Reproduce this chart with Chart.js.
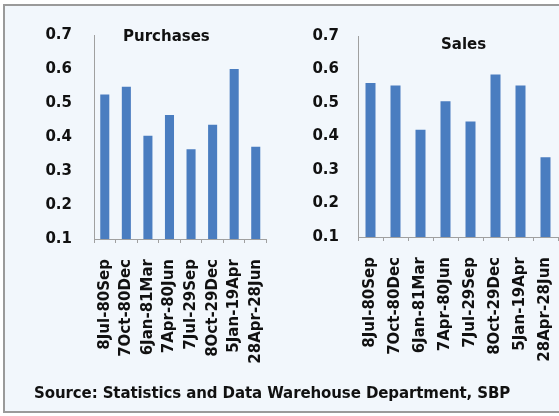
<!DOCTYPE html>
<html lang="en">
<head>
<meta charset="UTF-8">
<title>Purchases and Sales</title>
<script src="https://cdn.jsdelivr.net/npm/chart.js"></script>
<style>
    html, body { margin: 0; padding: 0; background: #fff; overflow: hidden; width: 559px; height: 416px; }
    #painel {
        position: absolute; left: 3px; top: 4px; width: 620px; height: 405px;
        border: 2px solid #9a9a9a; background: #f2f7fc;
    }
    canvas { position: absolute; top: 0; }
    .titulo, #fonte {
        position: absolute; font-family: "DejaVu Sans", sans-serif; font-weight: bold;
        color: #111; white-space: nowrap; line-height: 1;
    }
    .titulo { font-size: 15px; }
    #fonte { font-size: 15px; left: 34px; top: 386px; letter-spacing: -0.1px; }
</style>
</head>
<body>
<div id="painel"></div>
<canvas id="graficoCompras" width="290" height="416" style="left:0px"></canvas>
<canvas id="graficoVendas" width="300" height="416" style="left:290px"></canvas>
<div class="titulo" style="left:123px; top:29px">Purchases</div>
<div class="titulo" style="left:441px; top:37px">Sales</div>
<div id="fonte">Source: Statistics and Data Warehouse Department, SBP</div>
<script>
    // periodos
    var periodos = ['8Jul-80Sep', '7Oct-80Dec', '6Jan-81Mar', '7Apr-80Jun',
        '7Jul-29Sep', '8Oct-29Dec', '5Jan-19Apr', '28Apr-28Jun']

    var compras = [0.525, 0.548, 0.404, 0.465, 0.364, 0.436, 0.600, 0.371]
    var vendas = [0.560, 0.552, 0.420, 0.505, 0.445, 0.585, 0.552, 0.338]

    var eixoY = { min: 0.1, max: 0.7, passo: 0.1 }

    var corBarra = '#4a7dc0'
    var fonteEixo = { family: 'DejaVu Sans', weight: 'bold', size: 15 }
    var fonteCategoria = { family: 'DejaVu Sans', weight: 'bold', size: 15 }

    function montarGrafico(id, valores, larguraY, pad, paddingY, barra) {
        return new Chart(document.getElementById(id), {
            type: 'bar',
            data: {
                labels: periodos,
                datasets: [{
                    data: valores,
                    backgroundColor: corBarra,
                    borderWidth: 0,
                    categoryPercentage: 1,
                    barPercentage: barra
                }]
            },
            options: {
                responsive: false,
                animation: false,
                devicePixelRatio: 1,
                layout: { padding: pad },
                plugins: { legend: { display: false }, tooltip: { enabled: false } },
                scales: {
                    x: {
                        grid: { display: true, drawOnChartArea: false, drawTicks: true, tickLength: 4, color: '#a0a0a0' },
                        border: { display: true, color: '#a0a0a0', width: 1 },
                        ticks: {
                            color: '#111', font: fonteCategoria, padding: 16,
                            minRotation: 90, maxRotation: 90, autoSkip: false
                        },
                        afterFit: function (escala) { escala.height = 416 - pad.top - (pad.bottomArea) - pad.bottom }
                    },
                    y: {
                        min: eixoY.min, max: eixoY.max,
                        grid: { display: false, drawTicks: false },
                        border: { display: true, color: '#a0a0a0', width: 1 },
                        ticks: {
                            stepSize: eixoY.passo, color: '#111', font: fonteEixo, padding: paddingY,
                            callback: function (v) { return v.toFixed(1) }
                        },
                        afterFit: function (escala) { escala.width = larguraY }
                    }
                }
            }
        })
    }

    // compras: area de 94 a 286, 0.7 em y=35 e 0.1 em y=239
    montarGrafico('graficoCompras', compras, 94,
        { left: 0, right: 4, top: 35, bottom: 0, bottomArea: 204 }, 22, 0.42)

    // vendas: area de 358 a 558, 0.7 em y=36 e 0.1 em y=237
    montarGrafico('graficoVendas', vendas, 68,
        { left: 0, right: 32, top: 36, bottom: 0, bottomArea: 201 }, 19, 0.4)
</script>
</body>
</html>
